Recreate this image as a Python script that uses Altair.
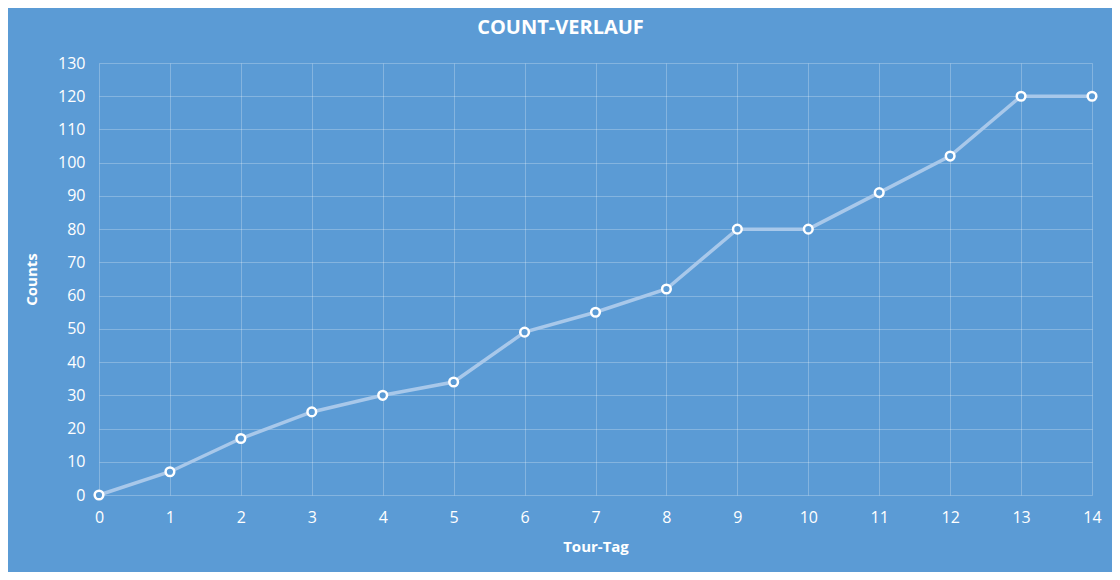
import altair as alt
import pandas as pd

days = list(range(15))
counts = [0, 7, 17, 25, 30, 34, 49, 55, 62, 80, 80, 91, 102, 120, 120]

df = pd.DataFrame({"Tour-Tag": days, "Counts": counts})

BG = "#5B9BD5"
FONT = "Open Sans"

x = alt.X("Tour-Tag:Q", scale=alt.Scale(domain=[0, 14], nice=False, zero=False),
          axis=alt.Axis(values=days, tickMinStep=1, format="d", title="Tour-Tag",
                        labelFlush=False))
y = alt.Y("Counts:Q", scale=alt.Scale(domain=[0, 130], nice=False),
          axis=alt.Axis(values=list(range(0, 131, 10)), title="Counts"))

line = alt.Chart(df).mark_line(color="#A8C8EA", strokeWidth=3.5).encode(x=x, y=y)
pts = alt.Chart(df).mark_point(filled=True, fill=BG, stroke="white", strokeWidth=2.5,
                               size=75, opacity=1).encode(x=x, y=y)

chart = (line + pts).properties(
    width=993, height=432,
    background=BG,
    padding={"left": 91, "top": 55, "right": 20, "bottom": 77},
    autosize=alt.AutoSizeParams(type="none"),
    title=alt.TitleParams("COUNT-VERLAUF", font=FONT, fontSize=20, fontWeight="bold",
                          color="white", anchor="middle", dx=-35, offset=17),
).configure_view(stroke=None).configure_axis(
    grid=True, gridColor="white", gridOpacity=0.25, gridWidth=1,
    domain=False, ticks=False,
    labelColor="white", labelFont=FONT, labelFontSize=16,
    titleColor="white", titleFont=FONT, titleFontSize=15, titleFontWeight="bold",
).configure_axisX(labelPadding=14, titlePadding=14).configure_axisY(
    labelPadding=14, titlePadding=18)

chart.save("out.html", embed_options={"renderer": "svg", "actions": False})
